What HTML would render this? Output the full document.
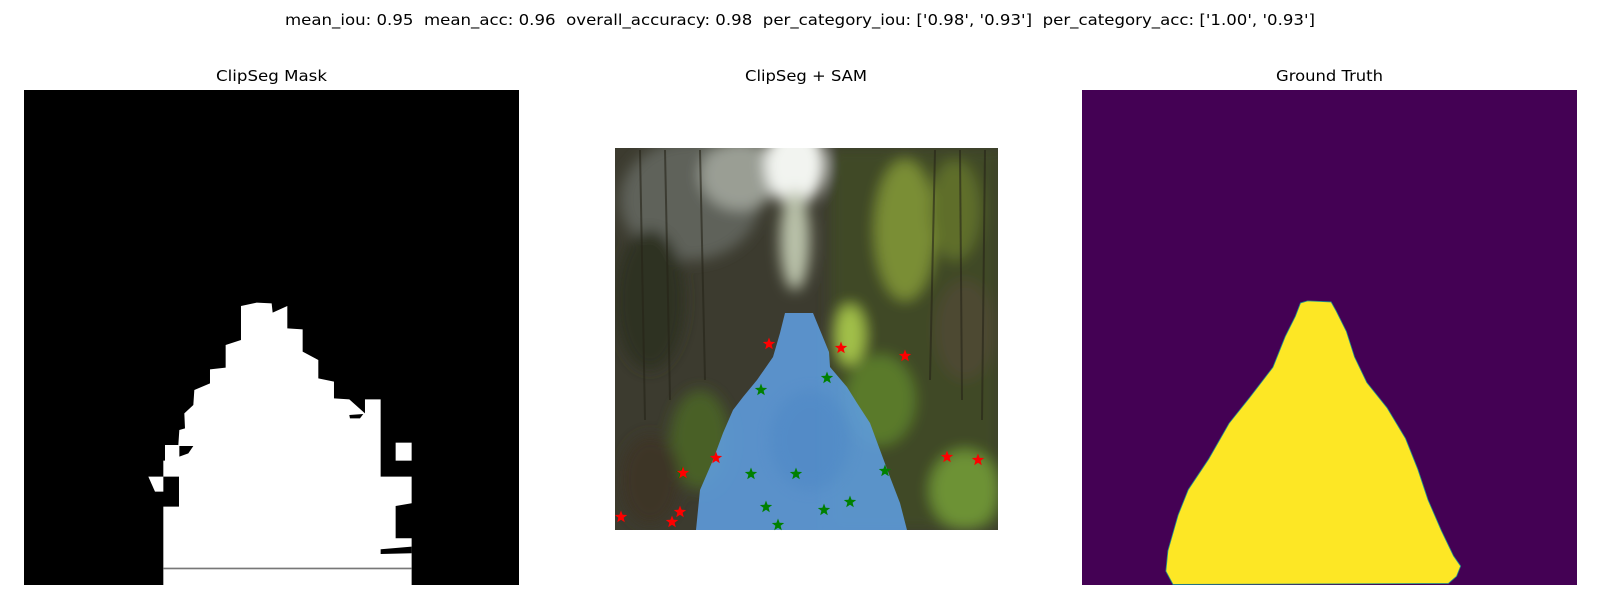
<!DOCTYPE html>
<html><head><meta charset="utf-8"><style>
html,body{margin:0;padding:0;background:#fff;}
svg{display:block;font-family:"DejaVu Sans","Liberation Sans",sans-serif;}
</style></head><body>
<svg id="fig" width="1600" height="600" viewBox="0 0 1600 600">
<defs>
<filter id="blur8" x="-20%" y="-20%" width="140%" height="140%"><feGaussianBlur stdDeviation="7"/></filter>
<filter id="blur3"><feGaussianBlur stdDeviation="2"/></filter>
<clipPath id="imgclip"><rect x="615" y="148" width="383" height="382"/></clipPath>
</defs>
<text x="800" y="25" font-size="15" text-anchor="middle" textLength="1030" lengthAdjust="spacingAndGlyphs" style="white-space:pre">mean_iou: 0.95  mean_acc: 0.96  overall_accuracy: 0.98  per_category_iou: ['0.98', '0.93']  per_category_acc: ['1.00', '0.93']</text>

<g>
<text x="271.5" y="81" font-size="15" text-anchor="middle" textLength="111" lengthAdjust="spacingAndGlyphs">ClipSeg Mask</text>
<rect x="24" y="90" width="495" height="495" fill="#000"/>
<g transform="translate(130,290) scale(0.3333)" fill="#fff">
<polygon points="100,885 100,650 147,650 147,560 100,560 100,512 105,512 105,465 145,465 148,420 165,415 163,370 190,345 193,300 240,280 240,238 287,233 287,165 333,150 333,48 380,38 425,40 428,68 472,48 472,115 518,118 518,185 565,210 565,265 612,275 612,325 658,328 705,370 705,328 752,328 752,560 845,560 845,640 797,648 797,745 845,745 845,885"/>
<rect x="797" y="458" width="48" height="54"/>
<polygon points="55,560 100,560 100,605 75,605"/>
<polygon points="148,468 190,468 175,490 148,500" fill="#000"/>
<polygon points="658,375 700,372 690,385 660,385" fill="#000"/>
<polygon points="752,778 845,770 845,790 752,792" fill="#000"/>
<rect x="100" y="833" width="745" height="5" fill="#777"/>
</g>
</g>

<g>
<text x="806" y="81" font-size="15" text-anchor="middle" textLength="122" lengthAdjust="spacingAndGlyphs">ClipSeg + SAM</text>
<g clip-path="url(#imgclip)">
<rect x="615" y="148" width="383" height="382" fill="#3c3b2f"/>
<g filter="url(#blur8)">
<ellipse cx="690" cy="200" rx="70" ry="60" fill="#5e625a"/>
<ellipse cx="740" cy="175" rx="40" ry="35" fill="#9a9e94"/>
<ellipse cx="795" cy="165" rx="30" ry="40" fill="#f2f4f0"/>
<ellipse cx="795" cy="240" rx="15" ry="50" fill="#b8c0a8"/>
<rect x="830" y="148" width="170" height="382" fill="#414a26"/>
<ellipse cx="905" cy="230" rx="30" ry="70" fill="#7a8e36"/>
<ellipse cx="955" cy="210" rx="25" ry="50" fill="#5f6e2a"/>
<ellipse cx="965" cy="330" rx="30" ry="50" fill="#4e4a32"/>
<ellipse cx="880" cy="400" rx="35" ry="45" fill="#5a7a2c"/>
<ellipse cx="965" cy="490" rx="35" ry="40" fill="#6d9236"/>
<ellipse cx="850" cy="335" rx="15" ry="30" fill="#a2c04a"/>
<ellipse cx="700" cy="440" rx="30" ry="50" fill="#4a6028"/>
<ellipse cx="650" cy="480" rx="30" ry="45" fill="#3e3628"/>
<ellipse cx="650" cy="300" rx="35" ry="70" fill="#2f3124"/>
</g>
<g stroke="#262418" stroke-width="2" opacity="0.6">
<line x1="640" y1="150" x2="645" y2="420"/><line x1="665" y1="150" x2="670" y2="400"/>
<line x1="700" y1="150" x2="705" y2="380"/><line x1="935" y1="150" x2="930" y2="380"/>
<line x1="960" y1="150" x2="962" y2="400"/><line x1="985" y1="150" x2="982" y2="420"/>
</g>
<polygon points="785,313 813,313 829,352 830,367 847,387 857,403 870,423 880,450 890,477 900,503 907,530 696,530 700,490 713,460 723,433 733,410 743,397 757,380 773,357 780,333" fill="#5d9bdb" opacity="0.9"/>
<ellipse cx="810" cy="440" rx="40" ry="50" fill="#4a84c4" opacity="0.4" filter="url(#blur8)"/>
</g>
<g id="stars"></g>
</g>

<g>
<text x="1329.5" y="81" font-size="15" text-anchor="middle" textLength="107" lengthAdjust="spacingAndGlyphs">Ground Truth</text>
<rect x="1082" y="90" width="495" height="495" fill="#440154"/>
<g transform="scale(1.02)">
<polygon points="1275,297 1282,295 1305,296 1310,305 1320,325 1328,350 1340,375 1360,400 1378,430 1390,460 1400,490 1413,520 1425,545 1432,555 1428,565 1420,572 1150,573 1143,560 1145,540 1155,505 1165,480 1185,450 1205,415 1225,390 1248,360 1260,330 1270,310" fill="#fde725" stroke="#21918c" stroke-width="0.8"/>
</g>
</g>
</svg>
<script>
const redX = [154, 226, 290, 101, 68, 65, 6, 57, 332, 363];
const redY = [196, 200, 208, 310, 325, 364, 369, 374, 309, 312];
const greenX = [212, 146, 136, 181, 270, 151, 209, 235, 163, 67];
const greenY = [230, 242, 326, 326, 323, 359, 362, 354, 377, 325];
const imgX0 = 615, imgY0 = 148;
function sx(v){ return imgX0 + v; }
function sy(v){ return imgY0 + v; }
function starPts(cx, cy, r){
  const p=[];
  for(let i=0;i<10;i++){
    const a=-Math.PI/2+i*Math.PI/5;
    const rr = i%2===0 ? r : r*0.42;
    p.push((cx+rr*Math.cos(a)).toFixed(1)+','+(cy+rr*Math.sin(a)).toFixed(1));
  }
  return p.join(' ');
}
const g=document.getElementById('stars');
const NS='http://www.w3.org/2000/svg';
for(let i=0;i<greenX.length;i++){
  const s=document.createElementNS(NS,'polygon');
  s.setAttribute('points',starPts(sx(greenX[i]),sy(greenY[i]),6.5));
  s.setAttribute('fill','#008000');
  
  
  g.appendChild(s);
}
for(let i=0;i<redX.length;i++){
  const s=document.createElementNS(NS,'polygon');
  s.setAttribute('points',starPts(sx(redX[i]),sy(redY[i]),6.5));
  s.setAttribute('fill','#ff0000');
  
  
  g.appendChild(s);
}
</script>
</body></html>
